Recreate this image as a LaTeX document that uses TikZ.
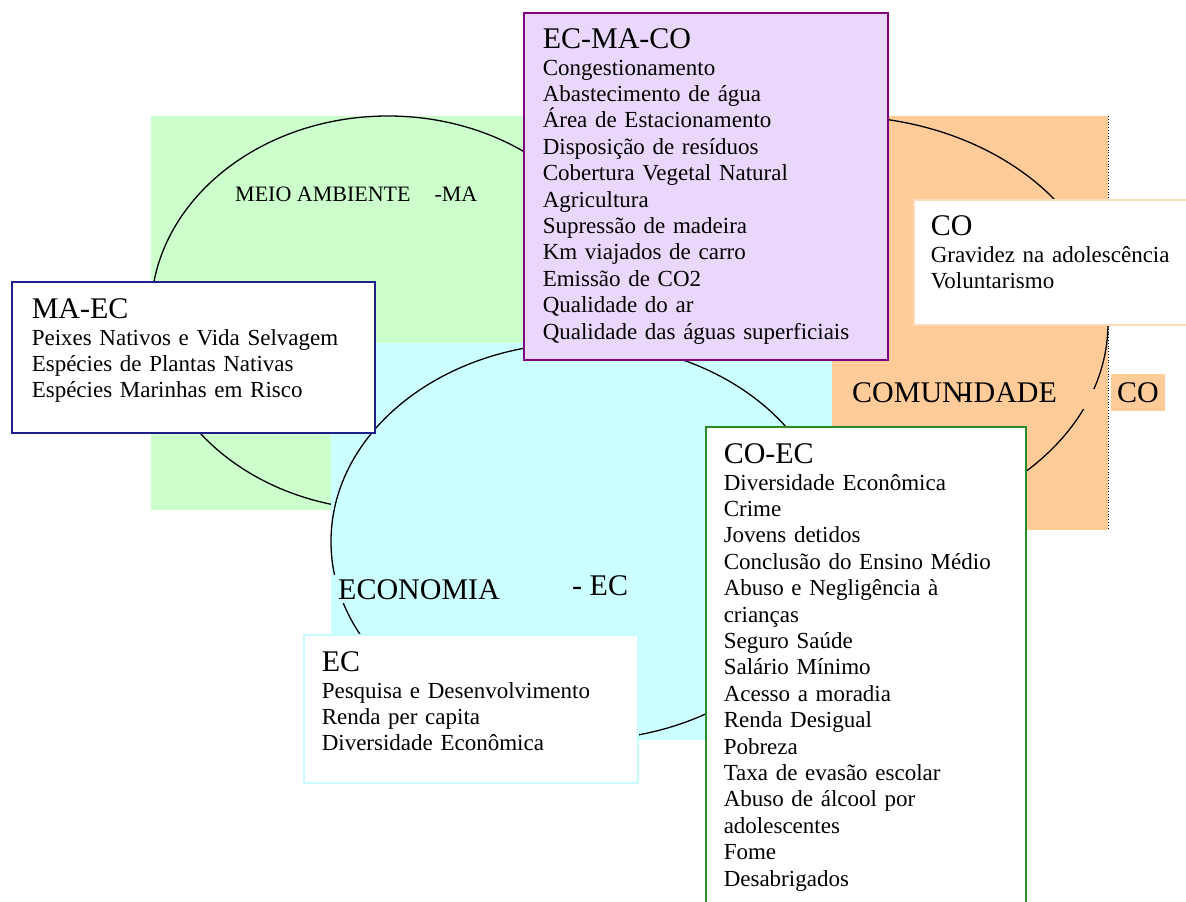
\documentclass[tikz,border=0pt]{standalone}
\usepackage{fontspec}
\setmainfont{Liberation Serif}
\usetikzlibrary{shapes.geometric}
\usetikzlibrary{positioning}

\definecolor{mafill}{RGB}{204,255,204}
\definecolor{ecfill}{RGB}{204,255,255}
\definecolor{cofill}{RGB}{255,204,153}
\definecolor{trifill}{RGB}{233,216,252}
\definecolor{triline}{RGB}{128,0,128}
\definecolor{maecline}{RGB}{30,30,140}
\definecolor{coecline}{RGB}{40,140,40}
\definecolor{ecline}{RGB}{200,250,255}
\definecolor{coline}{RGB}{255,220,185}

\newcommand\itemsize{\fontsize{23}{26.4}\selectfont}
\newcommand\titlesize{\fontsize{30}{26.4}\selectfont}

\begin{document}
\begin{tikzpicture}[x=1pt,y=-1pt,
      area/.style ={rectangle, anchor=north west, inner sep=0pt, outer sep=0pt},
      ring/.style ={ellipse, draw=black, line width=1.3pt, inner sep=0pt, outer sep=0pt},
      circname/.style ={anchor=base west, inner sep=0pt, font=\titlesize},
      listbox/.style ={rectangle, anchor=north west, fill=white, line width=1.5pt, align=left, inner ysep=0pt, font=\itemsize}
    ]
    \useasboundingbox (0,0) rectangle (1186,902);
    \clip (0,0) rectangle (1186,902);

    % coloured areas and circles
    \node [area, fill=mafill, minimum width=474pt, minimum height=394pt] (marect) at (151,116) {};
    \node [ring, minimum width=474pt, minimum height=394pt] (maring) at (marect.center) {};
    \node [area, fill=cofill, minimum width=276pt, minimum height=414pt] (corect) at (832,116) {};
    \node [ring, minimum width=542pt, minimum height=414pt] (coring) at (837,323) {};
    \draw [dotted, line width=.8pt] (corect.north east) -- (corect.south east);
    \fill [cofill] (1079,389) rectangle (1099,409);
    \node [area, fill=ecfill, minimum width=501pt, minimum height=397pt] (ecrect) at (331,343) {};
    \node [ring, minimum width=501pt, minimum height=397pt] (ecring) at (ecrect.center) {};

    % names of the circles
    \node [circname, font=\fontsize{22}{26}\selectfont] (maname) at (235,201) {MEIO AMBIENTE\hspace{24pt}-MA};
    \node [circname, fill=ecfill, inner sep=4pt] (ecname) at (334,599) {ECONOMIA};
    \node [circname] (ecshort) at (572,595) {- EC};
    \node [circname] (coname) at (852,402) {COMUN\kern-.17em-\kern-.17em IDADE};
    \node [circname, fill=cofill, inner xsep=6pt, text height=28pt, text depth=9pt] (coshort) at (1111,402) {CO};

    % lists
    \node [listbox, draw=maecline, text width=323pt, inner xsep=20pt, text height=37pt, text depth=114pt] (maec) at (11,281)
      {{\titlesize MA-EC}\\
       Peixes Nativos e Vida Selvagem\\
       Espécies de Plantas Nativas\\
       Espécies Marinhas em Risco};
    \node [listbox, draw=triline, fill=trifill, text width=326pt, inner xsep=19pt, text height=36pt, text depth=311pt] (ecmaco) at (523,12)
      {{\titlesize EC-MA-CO}\\
       Congestionamento\\
       Abastecimento de água\\
       Área de Estacionamento\\
       Disposição de resíduos\\
       Cobertura Vegetal Natural\\
       Agricultura\\
       Supressão de madeira\\
       Km viajados de carro\\
       Emissão de CO2\\
       Qualidade do ar\\
       Qualidade das águas superficiais};
    \node [listbox, draw=coline, text width=253pt, inner xsep=17pt, text height=36pt, text depth=89pt] (co) at (913,199)
      {{\titlesize CO}\\
       Gravidez na adolescência\\
       Voluntarismo};
    \node [listbox, draw=ecline, text width=298pt, inner xsep=18pt, text height=37pt, text depth=111pt] (ec) at (303,634)
      {{\titlesize EC}\\
       Pesquisa e Desenvolvimento\\
       Renda per capita\\
       Diversidade Econômica};
    \node [listbox, draw=coecline, text width=284pt, inner xsep=18pt, text height=37pt, text depth=500pt] (coec) at (705,426)
      {{\titlesize CO-EC}\\
       Diversidade Econômica\\
       Crime\\
       Jovens detidos\\
       Conclusão do Ensino Médio\\
       Abuso e Negligência à\\
       crianças\\
       Seguro Saúde\\
       Salário Mínimo\\
       Acesso a moradia\\
       Renda Desigual\\
       Pobreza\\
       Taxa de evasão escolar\\
       Abuso de álcool por\\
       adolescentes\\
       Fome\\
       Desabrigados};
  \end{tikzpicture}
\end{document}
